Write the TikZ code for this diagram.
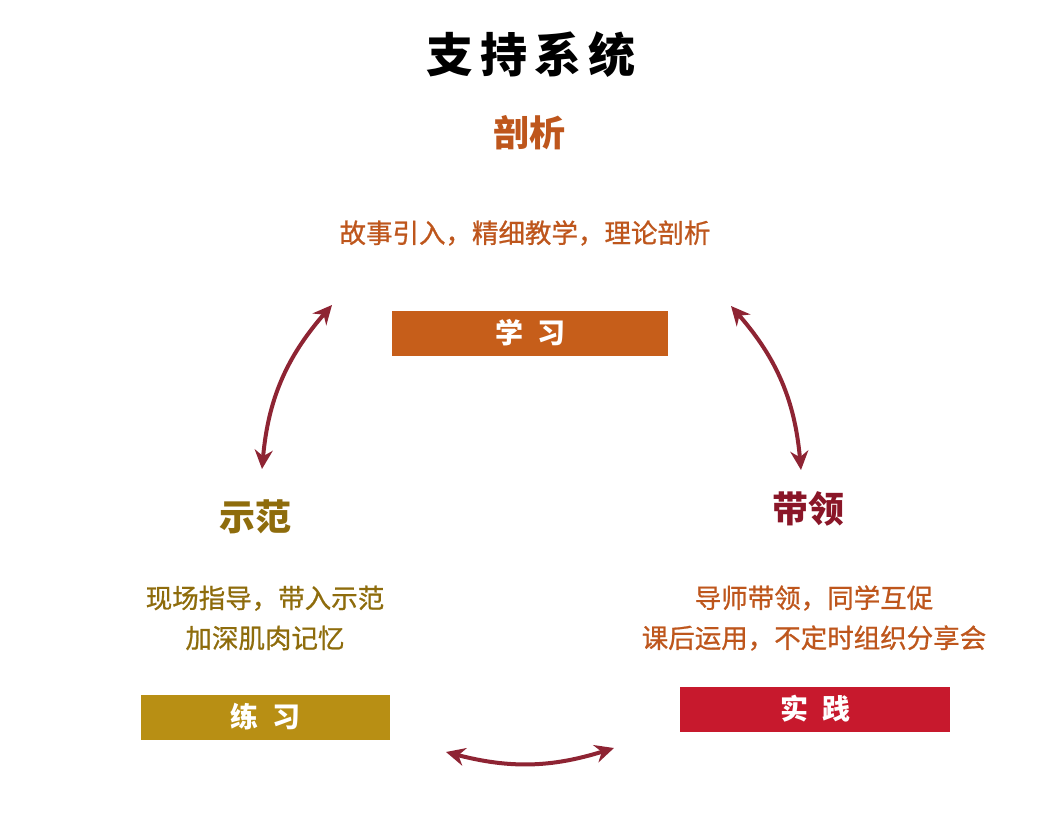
\documentclass[tikz,border=0pt]{standalone}
\usepackage{fontspec}
\setmainfont{Noto Sans CJK SC}
\newfontfamily\bodyfont{Noto Sans CJK SC}[FakeBold=0.8]
\usepackage{xcolor}
\usetikzlibrary{arrows.meta}

\definecolor{rust}{HTML}{BE561C}
\definecolor{rustbar}{HTML}{C65E1A}
\definecolor{olive}{HTML}{8E6C0C}
\definecolor{olivebar}{HTML}{B88F14}
\definecolor{wine}{HTML}{8A1628}
\definecolor{redbar}{HTML}{C7192D}
\definecolor{arrowred}{HTML}{8E2433}

\tikzset{
  head/.style={inner sep=0pt, font=\fontsize{36}{40}\selectfont\bfseries},
  body/.style={inner sep=0pt, align=center, font=\bodyfont\fontsize{26.5}{40}\selectfont},
  bar/.style={inner sep=0pt, minimum height=45pt, text=white, font=\fontsize{28}{30}\selectfont\bfseries},
  link/.style={draw=arrowred, line width=4pt, {Stealth[length=19pt,width=18pt]}-{Stealth[length=19pt,width=18pt]}}
}

\begin{document}
\begin{tikzpicture}[x=1pt, y=-1pt]
\fill[white] (0,0) rectangle (1061,825);
\useasboundingbox (0,0) rectangle (1061,825);
% title
\node[inner sep=0pt, font=\fontsize{47}{50}\selectfont\bfseries] (title) at (531,55) {支\hspace{0.15em}持\hspace{0.15em}系\hspace{0.15em}统};
% top: study
\node[head, text=rust] (pouxi) at (529,133) {剖析};
\node[body, text=rust] (pouxitxt) at (525,233) {故事引入，精细教学，理论剖析};
\node[bar, fill=rustbar, minimum width=276pt] (xuexi) at (530,333) {学\enspace 习};
% left: practice
\node[head, text=olive] (shifan) at (255,517) {示范};
\node[body, text=olive] (shifantxt) at (265,618) {现场指导，带入示范\\加深肌肉记忆};
\node[bar, fill=olivebar, minimum width=249pt] (lianxi) at (265.5,717) {练\enspace 习};
% right: apply
\node[head, text=wine] (dailing) at (808,509) {带领};
\node[body, text=rust] (dailingtxt) at (814,618) {导师带领，同学互促\\课后运用，不定时组织分享会};
\node[bar, fill=redbar, minimum width=270pt] (shijian) at (815,709) {实\enspace 践};
% arrows between the three parts
\coordinate (l1) at (262,469);
\coordinate (l2) at (332,305);
\coordinate (r1) at (731,306);
\coordinate (r2) at (801,470);
\coordinate (b1) at (446,752);
\coordinate (b2) at (614,748);
\draw[link] (l1) to[bend left=18] (l2);
\draw[link] (r1) to[bend left=18] (r2);
\draw[link] (b1) to[bend right=16] (b2);
\end{tikzpicture}
\end{document}
